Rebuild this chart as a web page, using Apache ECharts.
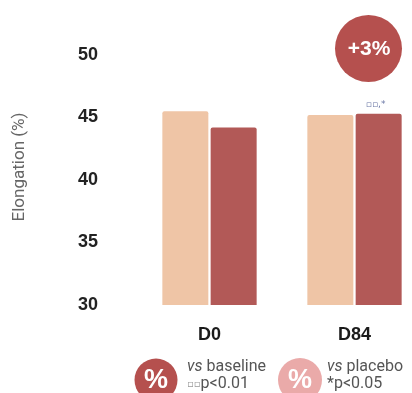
<!DOCTYPE html>
<html><head><meta charset="utf-8">
<script src="https://cdn.jsdelivr.net/npm/echarts@6/dist/echarts.min.js"></script>
<style>html,body{margin:0;padding:0;background:#fff}#c{width:412px;height:393px}</style>
</head><body><div id="c"></div>
<script>
var categories = ['D0', 'D84'];
var placeboValues = [45.5, 45.2];
var activeValues = [44.2, 45.3];
var yTicks = [30, 35, 40, 45, 50];
var annotations = ['', '▫▫,*'];

var chart = echarts.init(document.getElementById('c'));
chart.setOption({
  animation: false,
  backgroundColor: '#ffffff',
  grid: { left: 137, width: 290, top: 55, bottom: 88, outerBoundsMode: 'none', containLabel: false },
  xAxis: {
    type: 'category', data: categories,
    axisLine: { show: false }, axisTick: { show: false },
    axisLabel: { fontFamily: 'Liberation Sans', fontWeight: 'bold', fontSize: 18, color: '#1a1a1a', margin: 21 }
  },
  yAxis: {
    type: 'value', min: yTicks[0], max: yTicks[yTicks.length - 1], interval: 5,
    name: 'Elongation (%)', nameLocation: 'middle', nameGap: 109, nameRotate: 90,
    nameTextStyle: { fontFamily: 'Roboto', fontSize: 17, color: '#666', padding: [0, 0, 0, 26] },
    axisLine: { show: false }, axisTick: { show: false }, splitLine: { show: false },
    axisLabel: { fontFamily: 'Liberation Sans', fontWeight: 'bold', fontSize: 18, color: '#222', margin: 39 }
  },
  series: [
    { name: 'placebo', type: 'bar', data: placeboValues, barWidth: 46, barGap: '5%',
      itemStyle: { color: '#efc5a6', borderRadius: [2, 2, 0, 0] } },
    { name: 'active', type: 'bar', barWidth: 46, barGap: '5%',
      data: activeValues.map(function (v, i) {
        return { value: v, label: { show: !!annotations[i], formatter: annotations[i] } };
      }),
      label: { position: 'top', distance: 5, fontSize: 9, color: '#6b78a6', fontFamily: 'DejaVu Sans', offset: [-3, 0] },
      itemStyle: { color: '#b25957', borderRadius: [2, 2, 0, 0] } }
  ],
  graphic: [
    { type: 'circle', shape: { cx: 368.5, cy: 48.5, r: 33.5 }, style: { fill: '#b5504e' } },
    { type: 'text', x: 369, y: 49, style: { text: '+3%', fill: '#fff', font: 'bold 21px Liberation Sans', textAlign: 'center', textVerticalAlign: 'middle' } },
    { type: 'circle', shape: { cx: 156, cy: 380, r: 21.5 }, style: { fill: '#b5504e' } },
    { type: 'text', x: 156, y: 381, style: { text: '%', fill: '#fff', font: 'bold 27px Liberation Sans', textAlign: 'center', textVerticalAlign: 'middle' } },
    { type: 'text', x: 187, y: 367, style: { text: '{i|vs} baseline', rich: { i: { fontStyle: 'italic', fontSize: 16, fontFamily: 'Roboto', fill: '#555' } }, fill: '#555', font: '16px Roboto', textVerticalAlign: 'middle' } },
    { type: 'text', x: 187, y: 384, style: { text: '{s|▫▫}p<0.01', rich: { s: { fontSize: 10, fontFamily: 'DejaVu Sans', fill: '#999' } }, fill: '#555', font: '16px Roboto', textVerticalAlign: 'middle' } },
    { type: 'circle', shape: { cx: 300, cy: 380, r: 22 }, style: { fill: '#eaaaa9' } },
    { type: 'text', x: 300, y: 381, style: { text: '%', fill: '#fff', font: 'bold 27px Liberation Sans', textAlign: 'center', textVerticalAlign: 'middle' } },
    { type: 'text', x: 327, y: 367, style: { text: '{i|vs} placebo', rich: { i: { fontStyle: 'italic', fontSize: 16, fontFamily: 'Roboto', fill: '#555' } }, fill: '#555', font: '16px Roboto', textVerticalAlign: 'middle' } },
    { type: 'text', x: 327, y: 384, style: { text: '*p<0.05', fill: '#555', font: '16px Roboto', textVerticalAlign: 'middle' } }
  ]
});
</script>
</body></html>
